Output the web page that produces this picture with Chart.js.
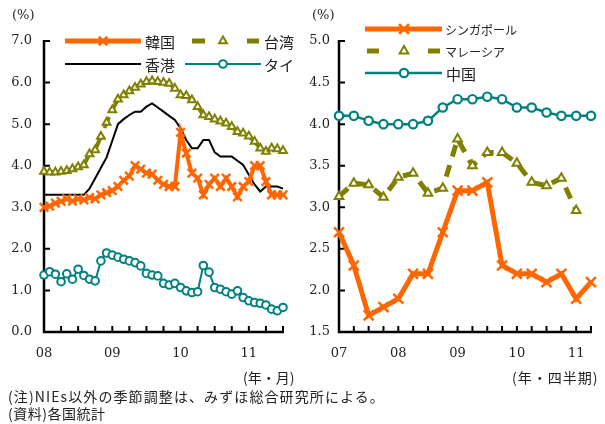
<!DOCTYPE html>
<html><head><meta charset="utf-8">
<script src="https://cdn.jsdelivr.net/npm/chart.js@4/dist/chart.umd.min.js"></script>
<style>
html,body{margin:0;padding:0;background:#fff;}
#wrap{position:relative;width:605px;height:424px;overflow:hidden;background:#fff;}
canvas{position:absolute;top:0;}
.t{position:absolute;color:#222;white-space:nowrap;line-height:1;}
.jp{font-family:"Noto Sans CJK JP",sans-serif;}
.sf{font-family:"DejaVu Serif",serif;}
</style></head><body>
<div id="wrap">
<canvas id="c1" width="300" height="370" style="left:0px"></canvas>
<canvas id="c2" width="305" height="370" style="left:300px"></canvas>
<div class="t sf" style="left:12px;top:8px;font-size:13px;">(%)</div>
<div class="t sf" style="left:312px;top:8px;font-size:13px;">(%)</div>
<div class="t jp" style="left:243px;top:370px;font-size:14px;">(年・月)</div>
<div class="t jp" style="left:512px;top:370px;font-size:14px;letter-spacing:1px;">(年・四半期)</div>
<div class="t jp" style="left:8px;top:389px;font-size:14px;letter-spacing:1.1px;">(注)NIEs以外の季節調整は、みずほ総合研究所による。</div>
<div class="t jp" style="left:8px;top:406px;font-size:14px;letter-spacing:0.5px;">(資料)各国統計</div>
</div>
<script>
// ---- data: left chart (monthly, 2008/01 - 2011/07) ----
const leftMonths = ['2008-01','2008-02','2008-03','2008-04','2008-05','2008-06','2008-07','2008-08','2008-09','2008-10','2008-11','2008-12',
'2009-01','2009-02','2009-03','2009-04','2009-05','2009-06','2009-07','2009-08','2009-09','2009-10','2009-11','2009-12',
'2010-01','2010-02','2010-03','2010-04','2010-05','2010-06','2010-07','2010-08','2010-09','2010-10','2010-11','2010-12',
'2011-01','2011-02','2011-03','2011-04','2011-05','2011-06','2011-07'];
const leftYearLabels = ['08','09','10','11'];
const korea = [3.0,3.03,3.1,3.14,3.2,3.15,3.2,3.18,3.23,3.2,3.3,3.35,3.4,3.5,3.65,3.75,4.0,3.92,3.82,3.8,3.65,3.55,3.5,3.5,4.8,4.3,3.82,3.7,3.3,3.55,3.7,3.5,3.7,3.5,3.25,3.5,3.62,4.0,4.0,3.62,3.3,3.3,3.3];
const taiwan = [3.86,3.84,3.84,3.86,3.88,3.92,3.97,4.02,4.28,4.38,4.7,5.04,5.34,5.6,5.7,5.8,5.88,5.96,6.02,6.04,6.02,6.0,5.98,5.86,5.7,5.68,5.58,5.42,5.22,5.18,5.12,5.07,5.02,4.94,4.82,4.78,4.71,4.58,4.42,4.34,4.42,4.4,4.36];
const hongkong = [3.3,3.3,3.3,3.3,3.3,3.3,3.3,3.3,3.45,3.7,3.95,4.2,4.6,5.0,5.12,5.22,5.3,5.3,5.42,5.5,5.4,5.3,5.2,5.1,4.9,4.62,4.42,4.42,4.62,4.62,4.32,4.22,4.22,4.22,4.12,4.02,3.78,3.55,3.38,3.5,3.5,3.5,3.45];
const thai = [1.37,1.45,1.39,1.21,1.4,1.27,1.51,1.36,1.27,1.23,1.71,1.9,1.85,1.8,1.75,1.71,1.67,1.59,1.41,1.37,1.35,1.17,1.13,1.17,1.07,0.99,0.95,0.97,1.6,1.44,1.07,1.03,0.97,0.91,0.99,0.83,0.75,0.71,0.69,0.65,0.55,0.51,0.59];

// ---- data: right chart (quarterly, 2007Q1 - 2011Q2) ----
const rightQuarters = ['2007Q1','2007Q2','2007Q3','2007Q4','2008Q1','2008Q2','2008Q3','2008Q4','2009Q1','2009Q2','2009Q3','2009Q4','2010Q1','2010Q2','2010Q3','2010Q4','2011Q1','2011Q2'];
const rightYearLabels = ['07','08','09','10','11'];
const singapore = [2.7,2.3,1.7,1.8,1.9,2.2,2.2,2.7,3.2,3.2,3.3,2.3,2.2,2.2,2.1,2.2,1.9,2.1];
const malaysia = [3.13,3.29,3.27,3.12,3.36,3.41,3.17,3.23,3.82,3.5,3.66,3.66,3.53,3.3,3.26,3.35,2.96,null];
const china = [4.1,4.1,4.04,4.0,4.0,4.0,4.04,4.2,4.3,4.3,4.33,4.3,4.2,4.2,4.14,4.1,4.1,4.1];

const ORANGE = '#FF6600', OLIVE = '#808000', TEAL = '#008080';
const TXT = '#222';
const numFont = {family: 'DejaVu Serif', size: 13};

const axesPlugin = {
  id: 'axesTicks',
  beforeDatasetsDraw(chart, args, opts) {
    const {ctx, chartArea, scales} = chart;
    const {left, right, top, bottom} = chartArea;
    ctx.save();
    ctx.strokeStyle = '#000';
    ctx.lineWidth = 2.5;
    ctx.beginPath();
    ctx.moveTo(left, top - 1);
    ctx.lineTo(left, bottom);
    ctx.lineTo(right + 1, bottom);
    ctx.stroke();
    ctx.lineWidth = 2;
    ctx.beginPath();
    scales.y.ticks.forEach(t => {
      const py = scales.y.getPixelForValue(t.value);
      ctx.moveTo(left, py); ctx.lineTo(left + 6, py);
    });
    const n = chart.data.labels.length;
    for (let i = 0; i < n; i += opts.every) {
      const px = scales.x.getPixelForValue(i);
      ctx.moveTo(px, bottom); ctx.lineTo(px, bottom - 6);
    }
    ctx.stroke();
    ctx.restore();
  }
};

const legendPlugin = {
  id: 'customLegend',
  afterDatasetsDraw(chart, args, opts) {
    const ctx = chart.ctx;
    opts.items.forEach(it => {
      const ds = chart.data.datasets[it.ds];
      ctx.save();
      ctx.strokeStyle = ds.borderColor;
      ctx.lineWidth = it.lw || ds.borderWidth;
      ctx.setLineDash(it.dash || []);
      ctx.beginPath(); ctx.moveTo(it.x0, it.y); ctx.lineTo(it.x1, it.y); ctx.stroke();
      ctx.setLineDash([]);
      if (ds.pointRadius > 0) {
        ctx.fillStyle = ds.pointBackgroundColor;
        ctx.strokeStyle = ds.pointBorderColor;
        ctx.lineWidth = ds.pointBorderWidth;
        Chart.helpers.drawPoint(ctx, {pointStyle: ds.pointStyle, radius: it.r || ds.pointRadius, borderWidth: ds.pointBorderWidth, rotation: 0}, it.mx, it.y);
      }
      ctx.fillStyle = TXT;
      ctx.font = it.font;
      ctx.textBaseline = 'middle';
      ctx.textAlign = 'left';
      ctx.fillText(ds.label, it.tx, it.y + 1);
      ctx.restore();
    });
  }
};

function baseOptions(cfg) {
  return {
    responsive: false,
    animation: false,
    events: [],
    layout: {padding: {top: 41, right: cfg.padRight, left: 0, bottom: 0}},
    plugins: {
      legend: {display: false},
      tooltip: {enabled: false},
      axesTicks: {every: cfg.every},
      customLegend: {items: cfg.legend}
    },
    scales: {
      x: {
        type: 'category',
        offset: false,
        grid: {display: false, drawTicks: false},
        border: {display: false},
        afterFit: s => { s.height = 38; },
        ticks: {
          autoSkip: false, maxRotation: 0, minRotation: 0, padding: 14,
          color: TXT, font: numFont,
          callback: cfg.xLabel
        }
      },
      y: {
        min: cfg.min, max: cfg.max,
        grid: {display: false, drawTicks: false},
        border: {display: false},
        afterFit: s => { s.width = cfg.yWidth; },
        ticks: {
          stepSize: cfg.step, padding: cfg.yPad, color: TXT, font: numFont,
          callback: v => Number(v).toFixed(1)
        }
      }
    }
  };
}

// ---- left chart ----
new Chart(document.getElementById('c1'), {
  type: 'line',
  data: {
    labels: leftMonths,
    datasets: [
      {label: '韓国', data: korea, borderColor: ORANGE, borderWidth: 4, pointStyle: 'crossRot', pointRadius: 6,
       pointBorderColor: ORANGE, pointBackgroundColor: ORANGE, pointBorderWidth: 2.5, clip: false, tension: 0},
      {label: '香港', data: hongkong, borderColor: '#000', borderWidth: 2, pointRadius: 0, clip: false, tension: 0},
      {label: '台湾', data: taiwan, borderColor: OLIVE, borderWidth: 4, borderDash: [12, 9], pointStyle: 'triangle', pointRadius: 4.5,
       pointBorderColor: OLIVE, pointBackgroundColor: '#fff', pointBorderWidth: 2, clip: false, tension: 0},
      {label: 'タイ', data: thai, borderColor: TEAL, borderWidth: 2, pointStyle: 'circle', pointRadius: 3.8,
       pointBorderColor: TEAL, pointBackgroundColor: '#fff', pointBorderWidth: 2, clip: false, tension: 0}
    ]
  },
  options: baseOptions({
    padRight: 17, yWidth: 44, yPad: 12, min: 0, max: 7, step: 1, every: 3,
    xLabel: (v, i) => leftMonths[i].endsWith('-01') ? leftYearLabels[Math.floor(i / 12)] : '',
    legend: [
      {ds: 0, x0: 65, x1: 141, y: 41, mx: 103, tx: 145, font: '15px "Noto Sans CJK JP"', lw: 5},
      {ds: 2, x0: 192, x1: 259, y: 41, mx: 223, tx: 264, font: '15px "Noto Sans CJK JP"', lw: 5, dash: [13, 42]},
      {ds: 1, x0: 65, x1: 141, y: 64, mx: 103, tx: 145, font: '15px "Noto Sans CJK JP"'},
      {ds: 3, x0: 185, x1: 261, y: 64, mx: 223, tx: 264, font: '15px "Noto Sans CJK JP"'}
    ]
  }),
  plugins: [axesPlugin, legendPlugin]
});

// ---- right chart ----
new Chart(document.getElementById('c2'), {
  type: 'line',
  data: {
    labels: rightQuarters,
    datasets: [
      {label: 'シンガポール', data: singapore, borderColor: ORANGE, borderWidth: 5, pointStyle: 'crossRot', pointRadius: 7,
       pointBorderColor: ORANGE, pointBackgroundColor: ORANGE, pointBorderWidth: 2.5, clip: false, tension: 0},
      {label: 'マレーシア', data: malaysia, borderColor: OLIVE, borderWidth: 5, borderDash: [12, 9], pointStyle: 'triangle', pointRadius: 5,
       pointBorderColor: OLIVE, pointBackgroundColor: '#fff', pointBorderWidth: 2, clip: false, tension: 0},
      {label: '中国', data: china, borderColor: TEAL, borderWidth: 2.5, pointStyle: 'circle', pointRadius: 4.2,
       pointBorderColor: TEAL, pointBackgroundColor: '#fff', pointBorderWidth: 2.2, clip: false, tension: 0}
    ]
  },
  options: baseOptions({
    padRight: 14, yWidth: 39, yPad: 9, min: 1.5, max: 5.0, step: 0.5, every: 1,
    xLabel: (v, i) => rightQuarters[i].endsWith('Q1') ? rightYearLabels[Math.floor(i / 4)] : '',
    legend: [
      {ds: 0, x0: 365, x1: 442, y: 29, mx: 404, tx: 445, font: '12px "Noto Sans CJK JP"', lw: 5},
      {ds: 1, x0: 367, x1: 441, y: 51, mx: 404, tx: 445, font: '12px "Noto Sans CJK JP"', lw: 5, dash: [12, 49]},
      {ds: 2, x0: 365, x1: 442, y: 73, mx: 404, tx: 446, font: '15px "Noto Sans CJK JP"'}
    ].map(o => Object.assign({}, o, {x0: o.x0 - 300, x1: o.x1 - 300, mx: o.mx - 300, tx: o.tx - 300}))
  }),
  plugins: [axesPlugin, legendPlugin]
});
</script>
</body></html>
